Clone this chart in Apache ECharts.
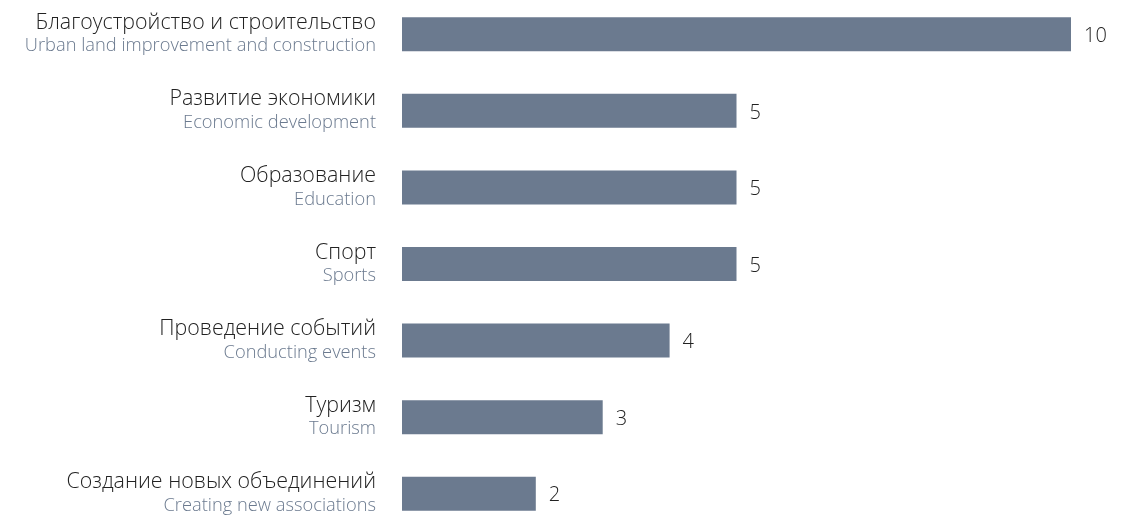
<!DOCTYPE html>
<html><head><meta charset="utf-8">
<script src="https://cdn.jsdelivr.net/npm/echarts@6/dist/echarts.min.js"></script>
<style>html,body{margin:0;padding:0;background:#fff}#c{width:1126px;height:519px}</style>
</head><body><div id="c"></div>
<script>
const categoriesRu = ['Благоустройство и строительство','Развитие экономики','Образование','Спорт','Проведение событий','Туризм','Создание новых объединений'];
const categoriesEn = ['Urban land improvement and construction','Economic development','Education','Sports','Conducting events','Tourism','Creating new associations'];
const values = [10,5,5,5,4,3,2];

const cats = categoriesRu.map((r,i)=>r+'\n'+categoriesEn[i]);
const chart = echarts.init(document.getElementById('c'));
chart.setOption({
  animation:false,
  grid:{left:402,width:669,top:-4,height:536,containLabel:false,outerBoundsMode:'none'},
  xAxis:{type:'value',min:0,max:10,show:false},
  yAxis:{type:'category',inverse:true,data:cats,
    axisLine:{show:false},axisTick:{show:false},
    axisLabel:{margin:26,align:'right',
      formatter:(v)=>{const p=v.split('\n');return '{ru|'+p[0]+'}\n{en|'+p[1]+'}';},
      rich:{
        ru:{fontFamily:'Open Sans',fontWeight:300,fontSize:21.4,color:'#222',lineHeight:24,align:'right'},
        en:{fontFamily:'Open Sans',fontWeight:300,fontSize:18.3,color:'#6b7a8f',lineHeight:23,align:'right'}
      }}},
  series:[{type:'bar',data:values,barWidth:34,
    itemStyle:{color:'#6b7a8f'},
    label:{show:true,position:'right',distance:13,offset:[0,2],fontFamily:'Open Sans',fontWeight:300,fontSize:20,color:'#222'}}]
});
</script></body></html>
